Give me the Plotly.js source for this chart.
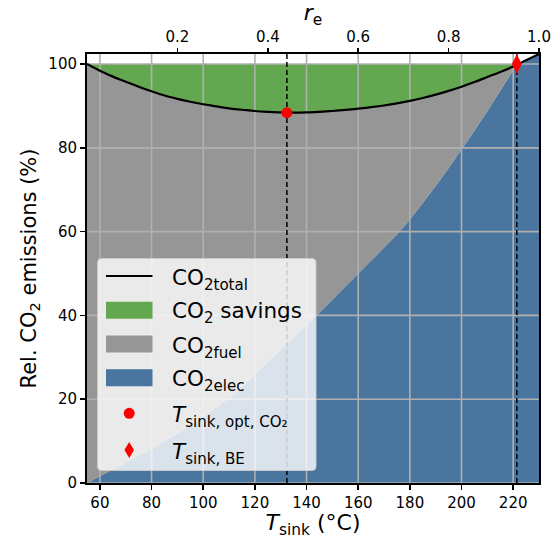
<!DOCTYPE html>
<html>
<head>
<meta charset="utf-8">
<script src="https://cdn.plot.ly/plotly-3.0.1.min.js"></script>
<style>html,body{margin:0;padding:0;background:#fff}#chart{width:560px;height:539px}</style>
</head>
<body>
<div id="chart"></div>
<script>
// ---- data ----
const T_sink = [55,60,65,70,75,80,85,90,95,100,105,110,115,120,125,130,135,140,145,150,155,160,165,170,175,180,185,190,195,200,205,210,215,220,225,230];
const CO2_total = [100.0,98.4,97.0,95.8,94.6,93.5,92.5,91.7,91.0,90.4,89.9,89.4,89.1,88.8,88.6,88.45,88.4,88.45,88.6,88.8,89.05,89.35,89.7,90.1,90.6,91.2,91.9,92.7,93.6,94.6,95.7,96.9,98.1,99.4,100.9,102.4];
const CO2_elec = [0.0,1.6,3.2,4.8,6.5,8.2,10.0,11.8,13.7,15.7,17.9,20.3,23.0,25.9,28.9,31.9,34.8,37.7,40.7,43.8,46.9,50.0,53.1,56.2,59.3,62.9,66.8,70.9,75.2,79.6,84.1,88.8,93.6,98.5,100.9,102.4];
const T_opt = 132.4, CO2_opt = 88.4;
const T_BE = 221.4, CO2_BE = 100;
const reference = 100;
const xTicks = [60,80,100,120,140,160,180,200,220];
const yTicks = [0,20,40,60,80,100];
const reTicks = [0.2,0.4,0.6,0.8,1.0];
const xRange = [55,230], yRange = [0,102.4], reRange = [0,1];
const legendLabels = ['CO<sub>2total</sub>', 'CO<sub>2</sub> savings', 'CO<sub>2fuel</sub>', 'CO<sub>2elec</sub>',
                      '<i>T</i><sub>sink, opt, CO₂</sub>', '<i>T</i><sub>sink, BE</sub>'];

// ---- colours ----
const cBlue = 'rgb(73,117,158)', cGray = 'rgb(150,150,150)', cGreen = 'rgb(99,168,81)', cGrid = '#b0b0b0';

const W = 560, H = 539, M = {l: 87, r: 21, t: 54, b: 56};
const pw = W - M.l - M.r, ph = H - M.t - M.b;
const px = v => (v - M.l) / pw;          // pixel -> paper x
const py = v => (H - M.b - v) / ph;      // pixel -> paper y

const upper = CO2_total.map(v => Math.max(v, reference));

// grid lines drawn over the fills
const gx = [], gy = [];
xTicks.forEach(t => { gx.push(t, t, null); gy.push(yRange[0], yRange[1], null); });
yTicks.forEach(t => { gx.push(xRange[0], xRange[1], null); gy.push(t, t, null); });

const traces = [
  {x: T_sink, y: CO2_elec, type: 'scatter', mode: 'lines', fill: 'tozeroy', fillcolor: cBlue,
   line: {width: 0, color: cBlue}, name: legendLabels[3], hoverinfo: 'skip'},
  {x: T_sink, y: CO2_total, type: 'scatter', mode: 'lines', fill: 'tonexty', fillcolor: cGray,
   line: {width: 0, color: cGray}, name: legendLabels[2], hoverinfo: 'skip'},
  {x: T_sink, y: upper, type: 'scatter', mode: 'lines', fill: 'tonexty', fillcolor: cGreen,
   line: {width: 0, color: cGreen}, name: legendLabels[1], hoverinfo: 'skip'},
  {x: gx, y: gy, type: 'scatter', mode: 'lines', line: {color: cGrid, width: 1.6},
   hoverinfo: 'skip', connectgaps: false, name: 'grid'},
  {x: [T_opt, T_opt], y: yRange, type: 'scatter', mode: 'lines', line: {color: 'black', width: 1.5, dash: '5px,3px'},
   hoverinfo: 'skip', name: 'opt line'},
  {x: [T_BE, T_BE], y: yRange, type: 'scatter', mode: 'lines', line: {color: 'black', width: 1.5, dash: '5px,3px'},
   hoverinfo: 'skip', name: 'BE line'},
  {x: T_sink, y: CO2_total, type: 'scatter', mode: 'lines', line: {color: 'black', width: 2.2, shape: 'spline'},
   name: legendLabels[0]},
  {x: [T_opt], y: [CO2_opt], type: 'scatter', mode: 'markers', marker: {color: 'red', size: 11, symbol: 'circle'},
   name: legendLabels[4]},
  {x: [T_BE], y: [CO2_BE], type: 'scatter', mode: 'markers', marker: {color: 'red', size: 14, symbol: 'diamond-tall'},
   name: legendLabels[5]},
  {x: reTicks, y: reTicks.map(() => null), xaxis: 'x2', type: 'scatter', mode: 'markers', hoverinfo: 'skip', name: 're'}
];

// ---- custom legend (matplotlib style) ----
const L = {x0: 97.5, y0: 258.5, x1: 316, y1: 470.5, r: 4};
const boxPath = `M${px(L.x0 + L.r)},${py(L.y0)} L${px(L.x1 - L.r)},${py(L.y0)} Q${px(L.x1)},${py(L.y0)} ${px(L.x1)},${py(L.y0 + L.r)} ` +
  `L${px(L.x1)},${py(L.y1 - L.r)} Q${px(L.x1)},${py(L.y1)} ${px(L.x1 - L.r)},${py(L.y1)} ` +
  `L${px(L.x0 + L.r)},${py(L.y1)} Q${px(L.x0)},${py(L.y1)} ${px(L.x0)},${py(L.y1 - L.r)} ` +
  `L${px(L.x0)},${py(L.y0 + L.r)} Q${px(L.x0)},${py(L.y0)} ${px(L.x0 + L.r)},${py(L.y0)} Z`;
const rowY = [276, 310.3, 344, 377.7, 413.3, 450];
const sx0 = 106, sx1 = 152.5, sxc = 129.2, ph2 = 8.5;
const shapes = [
  {type: 'path', xref: 'paper', yref: 'paper', path: boxPath, fillcolor: 'rgba(255,255,255,0.8)',
   line: {color: 'rgba(204,204,204,0.9)', width: 1}, layer: 'above'},
  {type: 'line', xref: 'paper', yref: 'paper', x0: px(sx0), x1: px(sx1), y0: py(rowY[0]), y1: py(rowY[0]),
   line: {color: 'black', width: 2.2}, layer: 'above'},
  {type: 'rect', xref: 'paper', yref: 'paper', x0: px(sx0), x1: px(sx1), y0: py(rowY[1] - ph2), y1: py(rowY[1] + ph2),
   fillcolor: cGreen, line: {width: 0}, layer: 'above'},
  {type: 'rect', xref: 'paper', yref: 'paper', x0: px(sx0), x1: px(sx1), y0: py(rowY[2] - ph2), y1: py(rowY[2] + ph2),
   fillcolor: cGray, line: {width: 0}, layer: 'above'},
  {type: 'rect', xref: 'paper', yref: 'paper', x0: px(sx0), x1: px(sx1), y0: py(rowY[3] - ph2), y1: py(rowY[3] + ph2),
   fillcolor: cBlue, line: {width: 0}, layer: 'above'},
  {type: 'circle', xref: 'paper', yref: 'paper', x0: px(sxc - 5.5), x1: px(sxc + 5.5), y0: py(rowY[4] - 5.5), y1: py(rowY[4] + 5.5),
   fillcolor: 'red', line: {width: 0}, layer: 'above'},
  {type: 'path', xref: 'paper', yref: 'paper',
   path: `M${px(sxc)},${py(rowY[5] - 8)} L${px(sxc + 4.8)},${py(rowY[5])} L${px(sxc)},${py(rowY[5] + 8)} L${px(sxc - 4.8)},${py(rowY[5])} Z`,
   fillcolor: 'red', line: {width: 0}, layer: 'above'}
];
const textShift = [3, 2, 3, 3, 3, 3];
const annotations = legendLabels.map((t, i) => ({
  text: t, xref: 'paper', yref: 'paper', x: px(170), y: py(rowY[i] + textShift[i]),
  xanchor: 'left', yanchor: 'middle', showarrow: false,
  font: {family: 'DejaVu Sans', size: 21.5, color: 'black'}
}));

const tickFont = {family: 'DejaVu Sans', size: 15, color: 'black'};
const layout = {
  width: W, height: H,
  margin: {l: M.l, r: M.r, t: M.t, b: M.b, pad: 0},
  paper_bgcolor: 'white', plot_bgcolor: 'white',
  font: {family: 'DejaVu Sans', color: 'black'},
  showlegend: false,
  xaxis: {range: xRange, tickvals: xTicks, ticks: 'outside', ticklen: 5, tickwidth: 1.5, tickcolor: 'black',
          showgrid: false, zeroline: false, showline: true, linecolor: 'black', linewidth: 2, mirror: true,
          tickfont: tickFont,
          title: {text: '<i>T</i><sub>sink</sub> (°C)', font: {family: 'DejaVu Sans', size: 22}, standoff: 4}},
  xaxis2: {range: reRange, overlaying: 'x', side: 'top', anchor: 'y', tickvals: reTicks,
           ticktext: reTicks.map(v => v.toFixed(1)),
           ticks: 'outside', ticklen: 5, tickwidth: 1.5, tickcolor: 'black', showgrid: false, zeroline: false,
           showline: false, tickfont: tickFont,
           title: {text: '<i>r</i><sub>e</sub>', font: {family: 'DejaVu Sans', size: 22}, standoff: 2}},
  yaxis: {range: yRange, tickvals: yTicks, ticks: 'outside', ticklen: 5, tickwidth: 1.5, tickcolor: 'black',
          showgrid: false, zeroline: false, showline: true, linecolor: 'black', linewidth: 2, mirror: true,
          tickfont: tickFont,
          title: {text: 'Rel. CO<sub>2</sub> emissions (%)', font: {family: 'DejaVu Sans', size: 21}, standoff: 6}},
  shapes: shapes,
  annotations: annotations
};

Plotly.newPlot('chart', traces, layout, {displayModeBar: false, staticPlot: true});
</script>
</body>
</html>
